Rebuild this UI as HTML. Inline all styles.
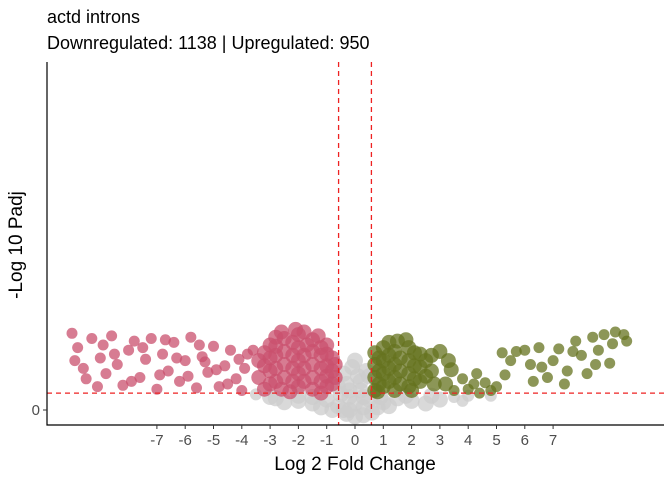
<!DOCTYPE html>
<html><head><meta charset="utf-8"><style>
body{margin:0;background:#fff}
svg{display:block;font-family:"Liberation Sans",sans-serif}
</style></head><body>
<svg id="chart" width="672" height="480">
<text x="47" y="23" font-size="18" fill="#000">actd introns</text>
<text x="47" y="49" font-size="18" fill="#000">Downregulated: 1138 | Upregulated: 950</text>
<g id="pts"></g>
<g id="axes"></g>
<text x="355" y="470" font-size="19" text-anchor="middle">Log 2 Fold Change</text>
<text transform="translate(22,245) rotate(-90)" font-size="19" text-anchor="middle">-Log 10 Padj</text>
</svg>
<script>
const xTicks=[-7,-6,-5,-4,-3,-2,-1,0,1,2,3,4,5,6,7];
const yTicks=[0];
const fcCut=0.58;
const padjCut=1.3;
const downPts=[[-3,2],[-3,3],[-3,4],[-3,5],[-2.6,1.6],[-2.5,2.5],[-2.5,3.5],[-2.5,4.5],[-2.5,5.5],[-2,1.8],[-2,2.8],[-2,3.8],[-2,4.8],[-2,5.8],[-2.1,6.2],[-1.5,1.6],[-1.5,2.5],[-1.5,3.5],[-1.5,4.5],[-1.5,5.4],[-1,1.8],[-1,2.6],[-1,3.4],[-1,4.3],[-1,5],[-0.7,2.5],[-0.7,3.5],[-3.4,2.5],[-3.4,3.8],[-3.6,4.6],[-2.8,5.6],[-1.2,1.3],[-2.3,1.4],[-3.2,1.6],[-1.8,6],[-2.6,6],[-1.3,5.7],
[-2.8,2.2],[-2.2,2.2],[-1.8,2.2],[-1.2,2.2],[-2.8,3.2],[-2.2,3.2],[-1.8,3.2],[-1.2,3.2],[-2.8,4.2],[-2.2,4.2],[-1.8,4.2],[-1.2,4.2],[-2.8,4.9],[-2.2,5.2],[-1.7,5],[-1.2,4.8],[-0.8,3],[-0.8,4],[-0.8,2],[-3.2,3.4],[-3.2,4.4],
[-10,5.9],[-9.8,4.8],[-9.6,3.2],[-9.5,2.4],[-9.3,5.5],[-9,4],[-8.8,2.8],[-8.6,5.7],[-8.4,3.5],[-8.2,1.9],[-8,4.6],[-7.8,5.3],[-7.6,2.5],[-7.4,3.9],[-7.2,5.5],[-7,1.6],[-6.8,4.3],[-6.6,3],[-6.4,5.2],[-6.2,2.2],[-6,3.8],[-5.8,5.6],[-5.6,1.7],[-5.4,4.1],[-5.2,2.9],[-5,4.9],[-4.8,1.8],[-4.6,3.4],[-4.4,4.6],[-4.2,2.4],[-4,1.5],[-3.9,3.2],[-3.8,4.3],[-9.9,3.8],[-9.1,1.8],[-8.5,4.3],[-7.9,2.2],[-7.5,4.8],[-6.9,2.7],[-6.3,4],[-5.9,2.6],[-5.3,3.7],[-4.9,3.1],[-4.5,2],[-4.1,3.9],[-8.9,5],[-6.7,5.4],[-5.5,5]];
const nsPts=[[-0.4,0],[0,-0.5],[0.3,0.2],[-0.2,1],[0.2,1.5],[-0.3,2],[0.1,2.6],[-0.1,3.3],[0.4,3],[-0.5,1.2],[0.5,0.8],[-1,0.8],[-1.5,0.5],[-2,0.7],[-2.5,0.6],[-3,1],[-3.5,1.2],[1,0.6],[1.5,0.9],[2,0.7],[2.5,0.5],[3,0.8],[3.5,1],[4,1.1],[4.8,1.1],[-0.6,0.3],[0.6,-0.2],[0,0.5],[-0.2,0],[0.2,2.2],[-0.8,0],[0.8,0.2],[-1.2,0.2],[1.2,0.3],
[-0.3,-0.3],[0.3,-0.4],[-0.6,1.8],[0.5,2.6],[-0.4,2.8],[0,3.8],[-0.2,1.5],[0.3,1],[-1.5,1],[-2,1.1],[-2.8,0.9],[1.8,1.1],[2.7,1.1],[3.8,0.7],[0.9,1]];
const upPts=[[0.7,1.5],[0.7,2.5],[0.7,3.5],[0.7,4.4],[1,1.8],[1,2.8],[1,3.8],[1,4.8],[1.4,1.5],[1.4,2.5],[1.4,3.5],[1.4,4.5],[1.5,5.3],[1.9,1.8],[1.9,2.8],[1.9,3.8],[1.9,4.8],[2.3,2.2],[2.3,3.3],[2.3,4.3],[2.7,3],[2.7,4.2],[3,4.5],[2.8,2],[1.2,5.2],[1.8,5.4],
[0.85,2],[0.85,3],[0.85,4],[1.2,2.2],[1.2,3.2],[1.2,4.2],[1.6,2],[1.6,3],[1.6,4],[2.1,2.4],[2.1,3.4],[2.1,4.4],[2.5,2.6],[2.5,3.8],[0.8,1.4],[2,1.5],
[3.2,2],[3.4,3.1],[3.5,1.5],[3.8,2.4],[4,1.6],[4.2,2],[4.4,1.3],[4.6,2.1],[4.8,1.5],[5,1.8],[3.3,3.8],[4.3,2.8],[5.3,2.7],[5.5,3.8],[5.7,4.5],[6,4.6],[6.2,3.5],[6.5,4.8],[6.8,2.5],[7,3.8],[7.2,4.7],[7.5,3],[7.8,5.3],[8,4.2],[8.2,2.8],[8.4,5.6],[8.6,4.6],[8.8,5.8],[9,3.6],[9.2,6],[9.5,5.8],[9.6,5.3],[6.3,2.2],[7.4,2],[8.5,3.5],[5.2,4.4],[6.6,3.3],[7.7,4.5],[9.1,5.1]];
const sx=v=>355+28.3*v, sy=v=>410-13*v;
const NS='http://www.w3.org/2000/svg';
const pts=document.getElementById('pts'), axes=document.getElementById('axes');
function mk(tag,attrs,parent){const e=document.createElementNS(NS,tag);for(const k in attrs)e.setAttribute(k,attrs[k]);parent.appendChild(e);return e;}
function draw(arr,color,name,base){arr.forEach(p=>{const r=base+(Math.abs(p[0])<3.5?2:0);const c=mk('circle',{cx:sx(p[0]),cy:sy(p[1]),r:r,fill:color,'fill-opacity':0.75},pts);

});}
draw(nsPts,'#cccccc','point-not-significant',6);
draw(downPts,'#c9506e','point-downregulated',5.5);
draw(upPts,'#66731f','point-upregulated',5.5);
[fcCut,-fcCut].forEach(v=>{const l=mk('line',{x1:sx(v),x2:sx(v),y1:62,y2:425,stroke:'#ee2222','stroke-width':1.3,'stroke-dasharray':'5,4'},axes);

});
const h=mk('line',{x1:47,x2:664,y1:sy(padjCut),y2:sy(padjCut),stroke:'#ee2222','stroke-width':1.3,'stroke-dasharray':'5,4'},axes);


const ax=mk('path',{d:'M47,62V425H664',fill:'none',stroke:'#000','stroke-width':1.2},axes);


xTicks.forEach(v=>{mk('line',{x1:sx(v),x2:sx(v),y1:425,y2:429,stroke:'#333'},axes);
const t=mk('text',{x:sx(v),y:445,'font-size':15,'text-anchor':'middle',fill:'#4d4d4d'},axes);t.textContent=v;

});
yTicks.forEach(v=>{mk('line',{x1:43,x2:47,y1:sy(v),y2:sy(v),stroke:'#333'},axes);
const t=mk('text',{x:40,y:sy(v)+5,'font-size':15,'text-anchor':'end',fill:'#4d4d4d'},axes);t.textContent=v;

});
</script>
</body></html>
